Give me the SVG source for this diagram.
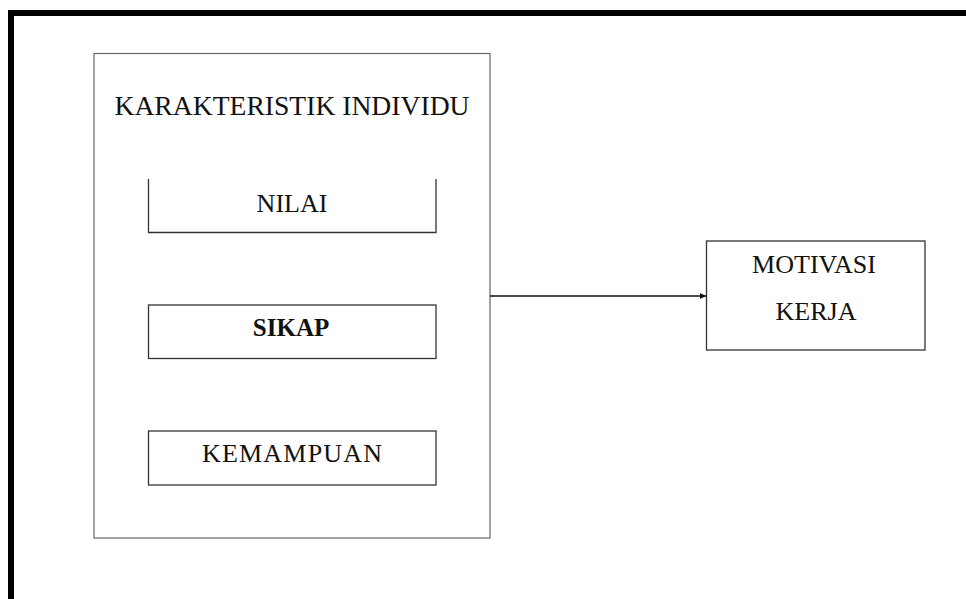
<svg xmlns="http://www.w3.org/2000/svg" width="966" height="599" viewBox="0 0 966 599">
<style>
.t{font-family:"Liberation Serif","Times New Roman",serif;fill:#111;text-anchor:middle}
.box{fill:none;stroke:#333;stroke-width:1.3}
.outer{fill:none;stroke:#000;stroke-width:6}
</style>
<defs>
<marker id="ah" viewBox="0 0 10 10" refX="10" refY="5" markerWidth="9" markerHeight="6" markerUnits="userSpaceOnUse" orient="auto">
<path d="M0,0 L10,5 L0,10 z" fill="#111"/>
</marker>
</defs>
<rect width="966" height="599" fill="#fff"/>
<path class="outer" d="M11,599 V13 H966"/>
<g id="karakteristik">
<rect x="94" y="53.5" width="396" height="484.5" fill="none" stroke="#666" stroke-width="1.2"/>
<text class="t" x="292" y="115" font-size="27" textLength="355" lengthAdjust="spacingAndGlyphs">KARAKTERISTIK INDIVIDU</text>
</g>
<g id="nilai">
<path class="box" d="M148.5,179 V232.5 H436 V179"/>
<text class="t" x="292" y="211.5" font-size="26">NILAI</text>
</g>
<g id="sikap">
<rect class="box" x="148.5" y="305" width="287.5" height="53.5"/>
<text class="t" x="291" y="336" font-size="25" font-weight="bold">SIKAP</text>
</g>
<g id="kemampuan">
<rect class="box" x="148.5" y="431" width="287.5" height="54"/>
<text class="t" x="292" y="461.5" font-size="26" textLength="180" lengthAdjust="spacing">KEMAMPUAN</text>
</g>
<g id="motivasi">
<rect class="box" x="706.5" y="241" width="218.5" height="109"/>
<text class="t" x="814" y="272.5" font-size="26">MOTIVASI</text>
<text class="t" x="816" y="319.5" font-size="26">KERJA</text>
</g>
<g id="connectors">
<line x1="490" y1="296" x2="706" y2="296" stroke="#111" stroke-width="1.3" marker-end="url(#ah)"/>
</g>
</svg>
